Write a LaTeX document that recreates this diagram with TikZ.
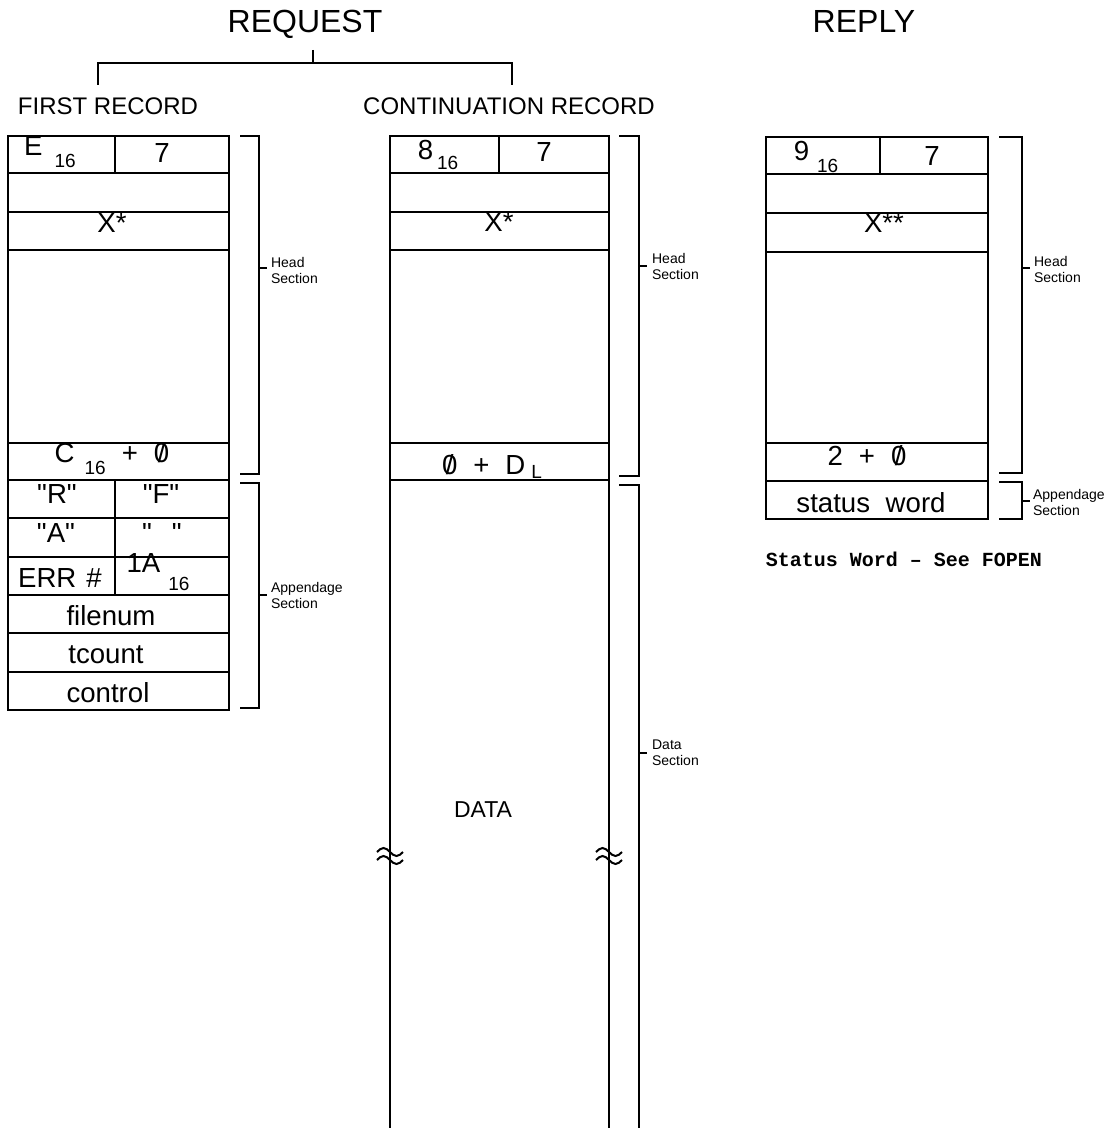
\documentclass[tikz,border=0pt]{standalone}
\usepackage{fontspec}
\setmainfont{Liberation Sans}[Ligatures=TeXOff]
\newfontfamily\statfont{Liberation Mono}
\newcommand\slz{\ooalign{0\cr\hidewidth/\hidewidth\cr}}
\newcommand\lsub[2][-5pt]{\raisebox{#1}{\fontsize{9.5}{9.5}\selectfont #2}}
\begin{document}
\begin{tikzpicture}[x=0.5pt,y=-0.5pt, line width=1.1pt,
  celltxt/.style={anchor=base, inner sep=0pt, font=\fontsize{13.8}{15}\selectfont},
  titletxt/.style={anchor=base, inner sep=0pt, font=\fontsize{16}{18}\selectfont},
  rectitle/.style={anchor=base, inner sep=0pt, font=\fontsize{12}{14}\selectfont},
  seclabel/.style={anchor=west, align=left, inner sep=0pt, font=\fontsize{7}{8}\selectfont},
  bracket/.style={line width=1.1pt},
]
\useasboundingbox (0,0) rectangle (1105,1128);

% titles
\node[titletxt] (req) at (305,33) {REQUEST};
\node[titletxt] (rep) at (864,33) {REPLY};
\node[rectitle] (first) at (108,115) {FIRST RECORD};
\node[rectitle] (cont) at (509,115) {CONTINUATION RECORD};
\coordinate (rq) at (313,50);
\coordinate (rqm) at (313,63);
\coordinate (fl) at (98,85);
\coordinate (cr) at (512,85);
\draw[bracket] (rq) -- (rqm);
\draw[bracket] (fl) -- (98,63) -- (512,63) -- (cr);

% first record
\draw (8,136) rectangle (229,710);
\foreach \y in {173,212,250,443,480,518,557,595,633,672} \draw (8,\y) -- (229,\y);
\draw (115,136) -- (115,173);
\draw (115,480) -- (115,595);
\node[celltxt] (f1) at (50,156) {E\hspace{6pt}\lsub[-6pt]{16}};
\node[celltxt] (f2) at (162,163) {7};
\node[celltxt] (f3) at (112,233) {X*};
\node[celltxt] (f4) at (112,462) {C\hspace{5pt}\lsub[-6pt]{16}\hspace{8pt}+\hspace{8pt}\slz};
\node[celltxt] (f5) at (57,503) {"R"};
\node[celltxt] (f6) at (161,503) {"F"};
\node[celltxt] (f7) at (56,542) {"A"};
\node[celltxt] (f8) at (162,542) {"\hspace{10pt}"};
\node[celltxt, anchor=base west] (f9) at (17,587) {ERR\hspace{5pt}\#};
\node[celltxt] (f10) at (158,572) {1A\hspace{4pt}\lsub[-9pt]{16}};
\node[celltxt] (f11) at (111,625) {filenum};
\node[celltxt] (f12) at (106,663) {tcount};
\node[celltxt] (f13) at (108,702) {control};
\draw[bracket] (240,136) -- (259,136) -- (259,474) -- (240,474);
\draw[bracket] (259,268) -- (267,268);
\draw[bracket] (240,483) -- (259,483) -- (259,708) -- (240,708);
\draw[bracket] (259,595) -- (267,595);
\node[seclabel] (fhead) at (270,270) {Head\\Section};
\node[seclabel] (fapp) at (270,595) {Appendage\\Section};

% continuation record
\draw (390,1128) -- (390,136) -- (609,136) -- (609,1128);
\foreach \y in {173,212,250,443,480} \draw (390,\y) -- (609,\y);
\draw (499,136) -- (499,173);
\node[celltxt] (c1) at (438,160) {8\hspace{2pt}\lsub[-5pt]{16}};
\node[celltxt] (c2) at (544,162) {7};
\node[celltxt] (c3) at (499,232) {X*};
\node[celltxt] (c4) at (492,474) {\slz\hspace{8pt}+\hspace{8pt}D\hspace{3pt}\lsub[-2pt]{L}};
\node[anchor=center, inner sep=0pt, font=\fontsize{11.5}{13}\selectfont] (data) at (483,810) {DATA};
\foreach \x in {390,609} \foreach \y in {852,860}
  \draw[line width=1pt] (\x-13,\y) sin (\x-6.5,\y-4) cos (\x,\y) sin (\x+6.5,\y+4) cos (\x+13,\y);
\draw[bracket] (619,136) -- (639,136) -- (639,476) -- (619,476);
\draw[bracket] (639,266) -- (647,266);
\draw[bracket] (619,485) -- (639,485) -- (639,1128);
\draw[bracket] (639,753) -- (647,753);
\node[seclabel] (chead) at (651,266) {Head\\Section};
\node[seclabel] (cdata) at (651,753) {Data\\Section};

% reply
\draw (766,137) rectangle (988,519);
\foreach \y in {174,213,252,443,481} \draw (766,\y) -- (988,\y);
\draw (880,137) -- (880,174);
\node[celltxt] (r1) at (816,161) {9\hspace{4pt}\lsub[-6pt]{16}};
\node[celltxt] (r2) at (932,166) {7};
\node[celltxt] (r3) at (884,233) {X**};
\node[celltxt] (r4) at (867,465) {2\hspace{8pt}+\hspace{8pt}\slz};
\node[celltxt] (r5) at (871,512) {status\hspace{4pt} word};
\draw[bracket] (999,137) -- (1022,137) -- (1022,473) -- (999,473);
\draw[bracket] (1022,268) -- (1030,268);
\draw[bracket] (999,482) -- (1022,482) -- (1022,519) -- (999,519);
\draw[bracket] (1022,501) -- (1030,501);
\node[seclabel] (rhead) at (1033,269) {Head\\Section};
\node[seclabel] (rapp) at (1032,502) {Appendage\\Section};
\node[anchor=base, inner sep=0pt, font=\statfont\bfseries\fontsize{10}{12}\selectfont] (stat) at (904,566) {Status Word – See FOPEN};
\end{tikzpicture}
\end{document}
